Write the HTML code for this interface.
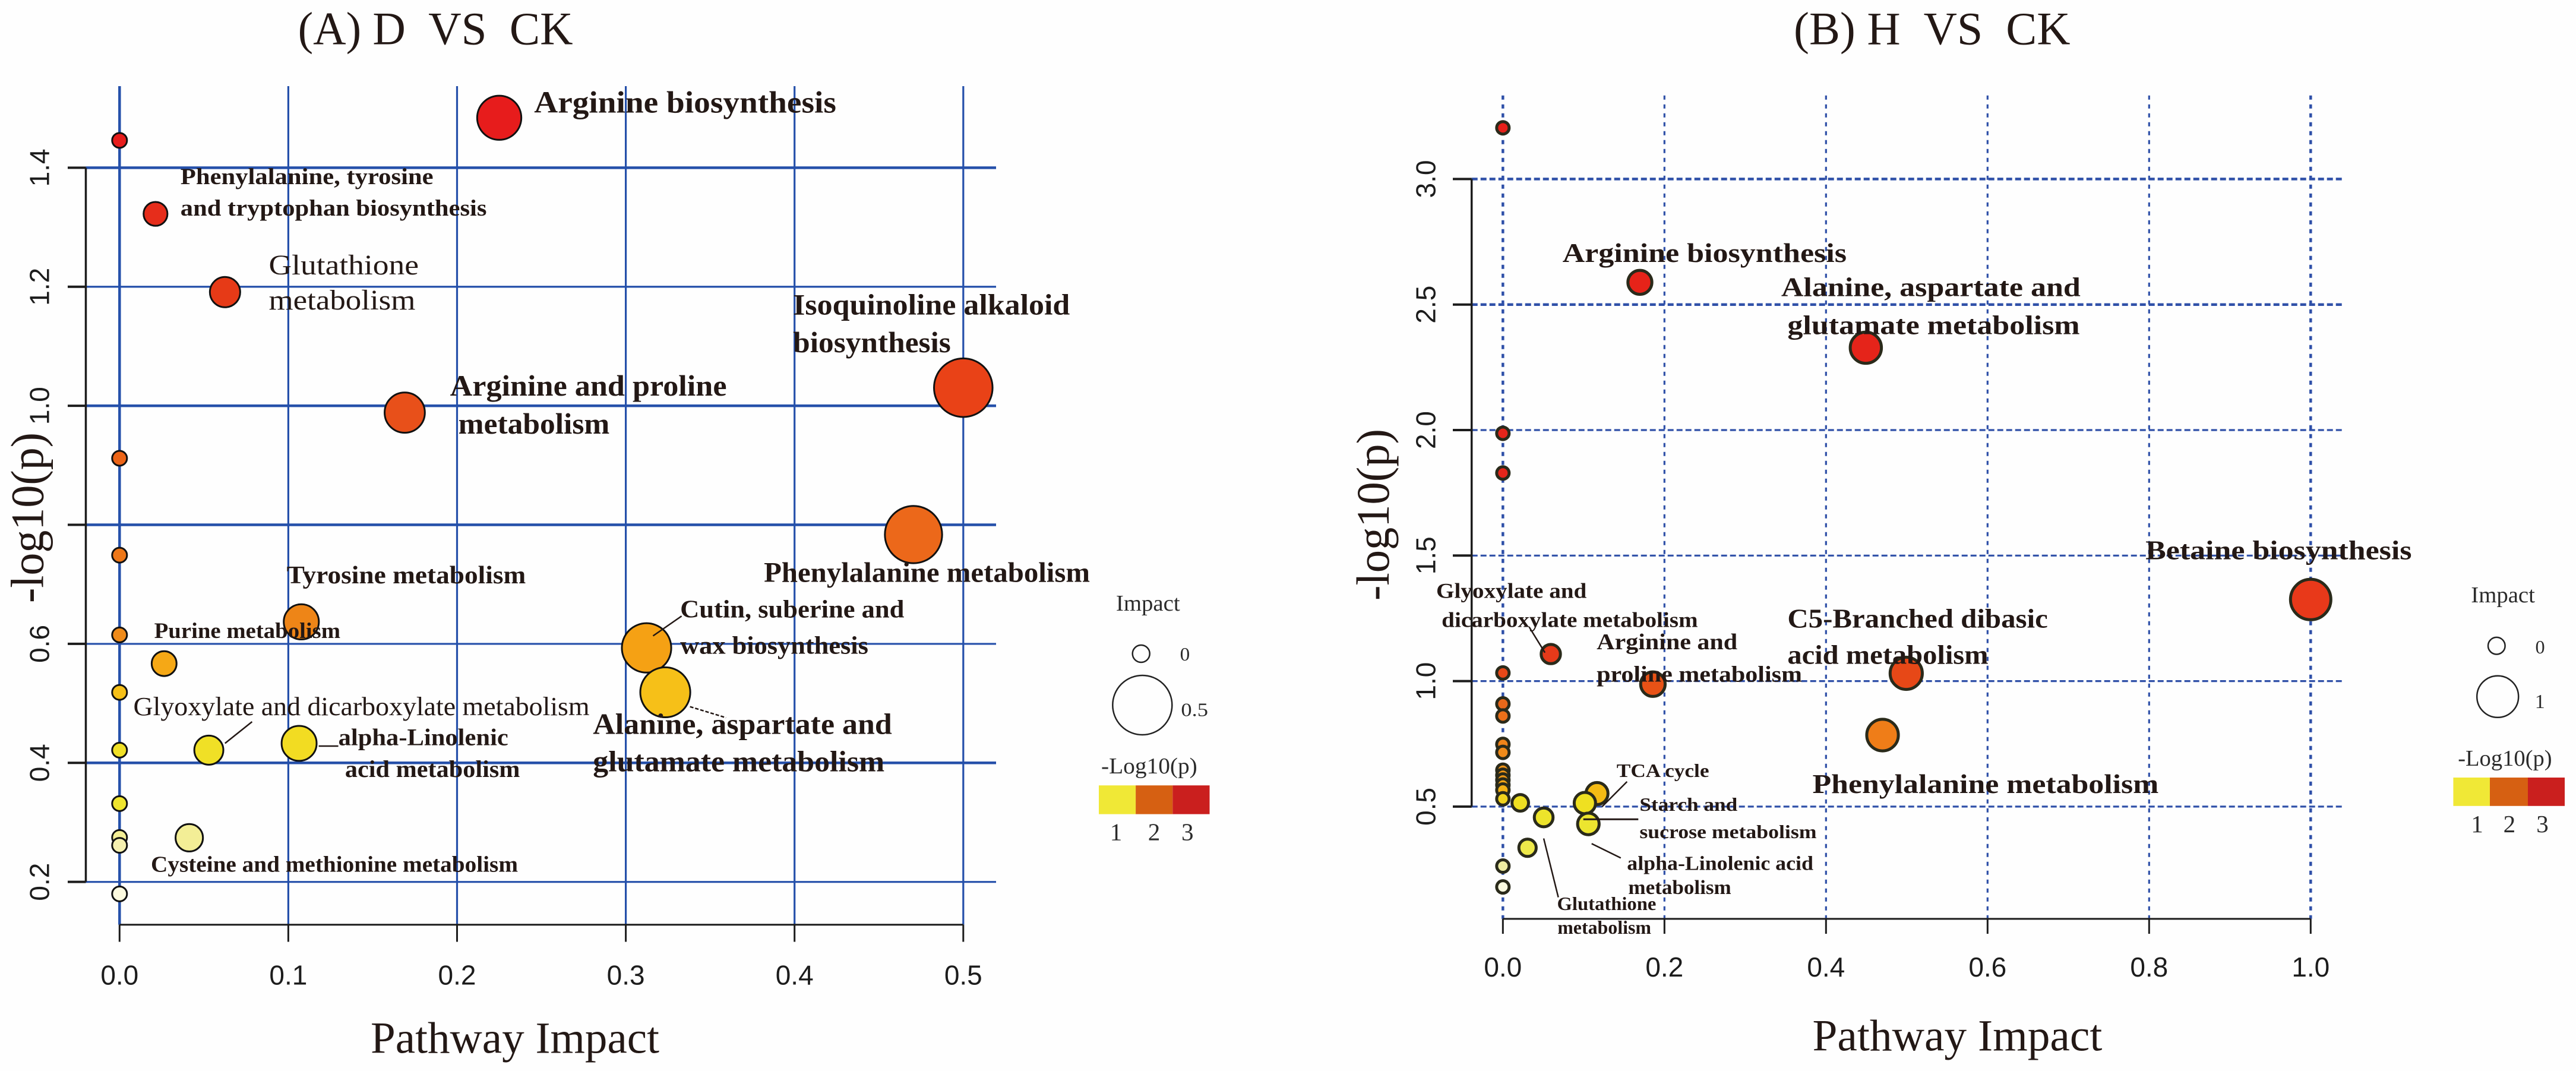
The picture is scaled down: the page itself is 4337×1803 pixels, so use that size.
<!DOCTYPE html>
<html lang="en">
<head>
<meta charset="utf-8">
<title>Pathway impact bubble charts: D vs CK and H vs CK</title>
<style>
html,body{margin:0;padding:0;background:#fefefe;}
#figure{display:block;width:4337px;height:1803px;}
text{fill:#231815;font-family:"Liberation Serif",serif;}
.lb{font-weight:bold;}
.tick{font-family:"Liberation Sans",sans-serif;font-size:46px;fill:#1c1c1c;}
.leg{fill:#2b2b2b;}
.leader{stroke:#231815;stroke-width:2.5;fill:none;}
</style>
</head>
<body>
<svg id="figure" xmlns="http://www.w3.org/2000/svg" width="4337" height="1803" viewBox="0 0 4337 1803">
<rect x="0" y="0" width="4337" height="1803" fill="#fefefe"/>

<g id="chart-a-grid"></g>
<g id="chart-a-axes"></g>
<g id="chart-a-points"></g>
<g id="chart-b-grid"></g>
<g id="chart-b-axes"></g>
<g id="chart-b-points"></g>

<!-- Panel A text -->
<g>
<text x="501.6" y="74.6" font-size="78" textLength="463" lengthAdjust="spacingAndGlyphs">(A) D&#160;&#160;VS&#160;&#160;CK</text>
<text x="624" y="1772.7" font-size="75" textLength="486" lengthAdjust="spacingAndGlyphs">Pathway Impact</text>
<text transform="translate(72.7,1015) rotate(-90)" x="0" y="0" font-size="78" textLength="287" lengthAdjust="spacingAndGlyphs">-log10(p)</text>

<line class="leader" x1="378.8" y1="1251.4" x2="424.4" y2="1215"/>
<line class="leader" x1="536.6" y1="1256" x2="569.6" y2="1256"/>
<line class="leader" x1="1099.5" y1="1070.5" x2="1147.6" y2="1037.1"/>
<line class="leader" stroke-dasharray="6 3" x1="1161.7" y1="1189.7" x2="1222.2" y2="1208.2"/>

<text class="lb" x="899.3" y="189.4" font-size="52" textLength="508.6" lengthAdjust="spacingAndGlyphs">Arginine biosynthesis</text>
<text class="lb" x="303.8" y="310" font-size="39" textLength="425.8" lengthAdjust="spacingAndGlyphs">Phenylalanine, tyrosine</text>
<text class="lb" x="303.8" y="362.8" font-size="39" textLength="515.6" lengthAdjust="spacingAndGlyphs">and tryptophan biosynthesis</text>
<text x="452.5" y="462" font-size="48" textLength="252.5" lengthAdjust="spacingAndGlyphs">Glutathione</text>
<text x="452.5" y="521.2" font-size="48" textLength="246.9" lengthAdjust="spacingAndGlyphs">metabolism</text>
<text class="lb" x="1335.2" y="529.3" font-size="50" textLength="466.1" lengthAdjust="spacingAndGlyphs">Isoquinoline alkaloid</text>
<text class="lb" x="1335.2" y="593" font-size="50" textLength="265.6" lengthAdjust="spacingAndGlyphs">biosynthesis</text>
<text class="lb" x="757.6" y="665.9" font-size="50" textLength="465.9" lengthAdjust="spacingAndGlyphs">Arginine and proline</text>
<text class="lb" x="771.7" y="730.2" font-size="50" textLength="254.6" lengthAdjust="spacingAndGlyphs">metabolism</text>
<text class="lb" x="1286.1" y="979.5" font-size="48" textLength="548.9" lengthAdjust="spacingAndGlyphs">Phenylalanine metabolism</text>
<text class="lb" x="482.6" y="981.8" font-size="42" textLength="402.7" lengthAdjust="spacingAndGlyphs">Tyrosine metabolism</text>
<text class="lb" x="1145.1" y="1039.4" font-size="42" textLength="377.3" lengthAdjust="spacingAndGlyphs">Cutin, suberine and</text>
<text class="lb" x="1145.1" y="1100.5" font-size="42" textLength="316.8" lengthAdjust="spacingAndGlyphs">wax biosynthesis</text>
<text class="lb" x="259.6" y="1074" font-size="37" textLength="313.5" lengthAdjust="spacingAndGlyphs">Purine metabolism</text>
<text x="224.5" y="1204" font-size="44" textLength="768.1" lengthAdjust="spacingAndGlyphs">Glyoxylate and dicarboxylate metabolism</text>
<text class="lb" x="998.3" y="1235.3" font-size="50" textLength="503.4" lengthAdjust="spacingAndGlyphs">Alanine, aspartate and</text>
<text class="lb" x="998.3" y="1298.6" font-size="50" textLength="490.9" lengthAdjust="spacingAndGlyphs">glutamate metabolism</text>
<text class="lb" x="569.6" y="1254.3" font-size="40" textLength="286.2" lengthAdjust="spacingAndGlyphs">alpha-Linolenic</text>
<text class="lb" x="580.9" y="1307.8" font-size="40" textLength="294.6" lengthAdjust="spacingAndGlyphs">acid metabolism</text>
<text class="lb" x="254" y="1467.4" font-size="38" textLength="618" lengthAdjust="spacingAndGlyphs">Cysteine and methionine metabolism</text>
</g>

<!-- Panel A legend -->
<g>
<text class="leg" x="1878.9" y="1027.9" font-size="38" textLength="107.8" lengthAdjust="spacingAndGlyphs">Impact</text>
<circle cx="1921.2" cy="1100.5" r="14.5" fill="none" stroke="#222" stroke-width="2.5"/>
<text class="leg" x="1986.7" y="1112" font-size="32" textLength="16.6" lengthAdjust="spacingAndGlyphs">0</text>
<circle cx="1923.3" cy="1187" r="50" fill="none" stroke="#222" stroke-width="2.5"/>
<text class="leg" x="1988.4" y="1205.3" font-size="32" textLength="45.6" lengthAdjust="spacingAndGlyphs">0.5</text>
<text class="leg" x="1854" y="1302" font-size="38" textLength="161.8" lengthAdjust="spacingAndGlyphs">-Log10(p)</text>
<rect x="1850" y="1322.2" width="62.1" height="48.4" fill="#f0e836"/>
<rect x="1912.1" y="1322.2" width="62.2" height="48.4" fill="#d66012"/>
<rect x="1974.3" y="1322.2" width="62.2" height="48.4" fill="#ca1f1e"/>
<text class="leg" x="1879" y="1414.4" font-size="41" text-anchor="middle">1</text>
<text class="leg" x="1943" y="1414.4" font-size="41" text-anchor="middle">2</text>
<text class="leg" x="1999.2" y="1414.4" font-size="41" text-anchor="middle">3</text>
</g>

<!-- Panel B text -->
<g>
<text x="3020" y="74.6" font-size="78" textLength="465.5" lengthAdjust="spacingAndGlyphs">(B) H&#160;&#160;VS&#160;&#160;CK</text>
<text x="3051.5" y="1768.6" font-size="75" textLength="487.8" lengthAdjust="spacingAndGlyphs">Pathway Impact</text>
<text transform="translate(2338,1011) rotate(-90)" x="0" y="0" font-size="78" textLength="289" lengthAdjust="spacingAndGlyphs">-log10(p)</text>

<line class="leader" stroke-width="3" x1="2574.5" y1="1055.5" x2="2601.1" y2="1098.7"/>
<line class="leader" stroke-width="3" x1="2739.3" y1="1315.9" x2="2697.3" y2="1358"/>
<line class="leader" stroke-width="3" x1="2679.7" y1="1420.2" x2="2728.8" y2="1444.4"/>
<line class="leader" stroke-width="3" x1="2599" y1="1411.5" x2="2623.6" y2="1510.6"/>

<text class="lb" x="2630.6" y="440.9" font-size="46" textLength="478.4" lengthAdjust="spacingAndGlyphs">Arginine biosynthesis</text>
<text class="lb" x="2998.9" y="498.3" font-size="46" textLength="503.9" lengthAdjust="spacingAndGlyphs">Alanine, aspartate and</text>
<text class="lb" x="3009.4" y="562.6" font-size="46" textLength="492.2" lengthAdjust="spacingAndGlyphs">glutamate metabolism</text>
<text class="lb" x="3612.2" y="941.5" font-size="46" textLength="448.3" lengthAdjust="spacingAndGlyphs">Betaine biosynthesis</text>
<text class="lb" x="2418" y="1006.6" font-size="36" textLength="253.3" lengthAdjust="spacingAndGlyphs">Glyoxylate and</text>
<text class="lb" x="2427.2" y="1055.5" font-size="36" textLength="431.4" lengthAdjust="spacingAndGlyphs">dicarboxylate metabolism</text>
<text class="lb" x="2688.1" y="1093" font-size="38" textLength="237.1" lengthAdjust="spacingAndGlyphs">Arginine and</text>
<text class="lb" x="2688.1" y="1147.7" font-size="38" textLength="345.9" lengthAdjust="spacingAndGlyphs">proline metabolism</text>
<text class="lb" x="3009.4" y="1056.7" font-size="46" textLength="438.4" lengthAdjust="spacingAndGlyphs">C5-Branched dibasic</text>
<text class="lb" x="3009.4" y="1117.7" font-size="46" textLength="338.2" lengthAdjust="spacingAndGlyphs">acid metabolism</text>
<text class="lb" x="3051.5" y="1334.9" font-size="46" textLength="582.8" lengthAdjust="spacingAndGlyphs">Phenylalanine metabolism</text>
<text class="lb" x="2721.8" y="1307.8" font-size="32" textLength="155.7" lengthAdjust="spacingAndGlyphs">TCA cycle</text>
<text class="lb" x="2760.4" y="1364.9" font-size="32" textLength="164.8" lengthAdjust="spacingAndGlyphs">Starch and</text>
<text class="lb" x="2760.4" y="1411" font-size="32" textLength="298.1" lengthAdjust="spacingAndGlyphs">sucrose metabolism</text>
<text class="lb" x="2739.3" y="1464.5" font-size="34" textLength="313.6" lengthAdjust="spacingAndGlyphs">alpha-Linolenic acid</text>
<text class="lb" x="2741.4" y="1504.8" font-size="34" textLength="173.3" lengthAdjust="spacingAndGlyphs">metabolism</text>
<text class="lb" x="2621.5" y="1531.9" font-size="32" textLength="166.9" lengthAdjust="spacingAndGlyphs">Glutathione</text>
<text class="lb" x="2622.2" y="1572.2" font-size="32" textLength="157.8" lengthAdjust="spacingAndGlyphs">metabolism</text>
</g>

<!-- Panel B legend -->
<g>
<text class="leg" x="4160.3" y="1014" font-size="38" textLength="107.6" lengthAdjust="spacingAndGlyphs">Impact</text>
<circle cx="4203.3" cy="1087.2" r="14.3" fill="none" stroke="#222" stroke-width="2.5"/>
<text class="leg" x="4268.5" y="1099.9" font-size="32" textLength="16.1" lengthAdjust="spacingAndGlyphs">0</text>
<circle cx="4205.2" cy="1172.8" r="35" fill="none" stroke="#222" stroke-width="2.5"/>
<text class="leg" x="4276.3" y="1192" font-size="34" text-anchor="middle">1</text>
<text class="leg" x="4138.2" y="1288.8" font-size="38" textLength="158.4" lengthAdjust="spacingAndGlyphs">-Log10(p)</text>
<rect x="4130.4" y="1309" width="61.6" height="47.8" fill="#f0e836"/>
<rect x="4192" y="1309" width="64" height="47.8" fill="#d66012"/>
<rect x="4256" y="1309" width="62" height="47.8" fill="#ca1f1e"/>
<text class="leg" x="4170.5" y="1401.2" font-size="41" text-anchor="middle">1</text>
<text class="leg" x="4224.9" y="1401.2" font-size="41" text-anchor="middle">2</text>
<text class="leg" x="4280.5" y="1401.2" font-size="41" text-anchor="middle">3</text>
</g>
</svg>

<script>
// ---- Chart data, panel A ----
var xTicksA = ['0.0', '0.1', '0.2', '0.3', '0.4', '0.5'];
var yTicksA = ['0.2', '0.4', '0.6', '0.8', '1.0', '1.2', '1.4'];
var hiddenYLabelsA = ['0.8'];
var impactA = [0.225, 0, 0.0213, 0.0625, 0.169, 0.5, 0, 0.4705, 0, 0.1077, 0, 0.0264, 0, 0.3123, 0.3234, 0.0529, 0.1064, 0, 0, 0, 0, 0.0413, 0];
var logPA = [1.484, 1.446, 1.3225, 1.191, 0.9886, 1.0304, 0.9118, 0.7836, 0.749, 0.637, 0.615, 0.5668, 0.5185, 0.5932, 0.5186, 0.4214, 0.4328, 0.4214, 0.3316, 0.2747, 0.2615, 0.2742, 0.1799];

// ---- Chart data, panel B ----
var xTicksB = ['0.0', '0.2', '0.4', '0.6', '0.8', '1.0'];
var yTicksB = ['0.5', '1.0', '1.5', '2.0', '2.5', '3.0'];
var hiddenYLabelsB = [];
var impactB = [0, 0.1696, 0.4493, 0, 0, 0.0593, 0, 0.1857, 0.4993, 0.47, 1.0, 0, 0, 0, 0, 0, 0, 0, 0, 0, 0, 0.0215, 0.0505, 0.0305, 0, 0, 0.1165, 0.1015, 0.1058];
var logPB = [3.204, 2.5885, 2.328, 1.987, 1.829, 1.1077, 1.0325, 0.9877, 1.031, 0.785, 1.325, 0.909, 0.861, 0.748, 0.716, 0.645, 0.625, 0.606, 0.586, 0.566, 0.531, 0.515, 0.457, 0.336, 0.263, 0.18, 0.552, 0.514, 0.431];

// ---- Axis scales ----
function xA(v) { return 201.3 + 2841 * v; }
function yA(v) { return 282.4 + (1.4 - v) * 1001.9; }
function rA(v) { return 12.5 + 52 * Math.sqrt(v); }
function xB(v) { return 2530.3 + 1360 * v; }
function yB(v) { return 301.4 + (3 - v) * 422.6; }
function rB(v) { return 10.5 + 23.5 * Math.sqrt(v); }

// Heat colour scale: -log10(p) -> fill colour
var heatStopsA = [[0.18,'#fdfbe0'],[0.262,'#f5f0b0'],[0.30,'#f0ea60'],[0.33,'#efe52e'],[0.42,'#f0e026'],[0.44,'#f3d91f'],[0.518,'#f6c018'],[0.567,'#f5a816'],[0.595,'#f5a014'],[0.615,'#ef8b1a'],[0.64,'#ee8417'],[0.75,'#ed7718'],[0.785,'#ec671a'],[0.91,'#ec6417'],[0.99,'#e8501a'],[1.03,'#e94217'],[1.19,'#e63a17'],[1.32,'#e62d1b'],[1.45,'#e71c1c']];
var heatStopsB = [[0.18,'#fbfadf'],[0.265,'#eeeca0'],[0.336,'#eee94a'],[0.43,'#ece52f'],[0.52,'#efe020'],[0.55,'#f4bc14'],[0.6,'#f09a16'],[0.72,'#f08a19'],[0.785,'#ef7d18'],[0.9,'#e96a1a'],[1.0,'#e84f15'],[1.1,'#e63a1a'],[1.33,'#e8391a'],[1.83,'#e5261a'],[3.2,'#e62019']];

function heat(stops, v) {
  if (v <= stops[0][0]) return stops[0][1];
  for (var i = 1; i < stops.length; i++) {
    if (v <= stops[i][0]) {
      var t = (v - stops[i - 1][0]) / (stops[i][0] - stops[i - 1][0]);
      var a = parseInt(stops[i - 1][1].slice(1), 16), b = parseInt(stops[i][1].slice(1), 16);
      var r = Math.round((a >> 16) + ((b >> 16) - (a >> 16)) * t);
      var g = Math.round(((a >> 8) & 255) + (((b >> 8) & 255) - ((a >> 8) & 255)) * t);
      var bl = Math.round((a & 255) + ((b & 255) - (a & 255)) * t);
      return 'rgb(' + r + ',' + g + ',' + bl + ')';
    }
  }
  return stops[stops.length - 1][1];
}

var NS = 'http://www.w3.org/2000/svg';
function mk(tag, parent, props) {
  var e = document.createElementNS(NS, tag);
  for (var k in props) e.setAttribute(k, props[k]);
  parent.appendChild(e);
  return e;
}

function drawChart(cfg) {
  var grid = document.getElementById(cfg.id + '-grid');
  var axes = document.getElementById(cfg.id + '-axes');
  var pts = document.getElementById(cfg.id + '-points');

  // horizontal gridlines and y ticks
  cfg.yTicks.forEach(function (t) {
    var y = cfg.y(parseFloat(t));
    var g = mk('line', grid, { x1: cfg.axisX, y1: y, x2: cfg.gridRight, y2: y, stroke: cfg.gridColor, 'stroke-width': cfg.thickY.indexOf(t) >= 0 ? 4.5 : 3.2, 'stroke-dasharray': cfg.dashH });
    
    
    var m = mk('line', axes, { x1: cfg.yTickEnd, y1: y, x2: cfg.axisX, y2: y, stroke: '#1c1c1c', 'stroke-width': 4 });
    
    
    if (cfg.hiddenY.indexOf(t) < 0) {
      var l = mk('text', axes, { 'class': 'tick', transform: 'translate(' + cfg.yLabelX + ',' + y + ') rotate(-90)', 'text-anchor': 'middle' });
      l.textContent = t;
      
      
    }
  });
  // vertical gridlines and x ticks
  cfg.xTicks.forEach(function (t) {
    var x = cfg.x(parseFloat(t));
    var g = mk('line', grid, { x1: x, y1: cfg.gridTop, x2: x, y2: cfg.axisY, stroke: cfg.gridColor, 'stroke-width': cfg.thickX.indexOf(t) >= 0 ? 4.5 : 3.2, 'stroke-dasharray': cfg.dashV });
    
    
    var m = mk('line', axes, { x1: x, y1: cfg.axisY, x2: x, y2: cfg.xTickEnd, stroke: '#1c1c1c', 'stroke-width': 3 });
    
    
    var l = mk('text', axes, { 'class': 'tick', x: x, y: cfg.xLabelY, 'text-anchor': 'middle' });
    l.textContent = t;
    
    
  });
  // axis lines
  var ya = mk('line', axes, { x1: cfg.axisX, y1: cfg.y(parseFloat(cfg.yTicks[cfg.yTicks.length - 1])), x2: cfg.axisX, y2: cfg.y(parseFloat(cfg.yTicks[0])), stroke: '#1c1c1c', 'stroke-width': 3.5 });
  
  
  var xa = mk('line', axes, { x1: cfg.x(parseFloat(cfg.xTicks[0])), y1: cfg.axisY, x2: cfg.x(parseFloat(cfg.xTicks[cfg.xTicks.length - 1])), y2: cfg.axisY, stroke: '#1c1c1c', 'stroke-width': 3 });
  
  

  // pathway bubbles
  cfg.impact.forEach(function (imp, i) {
    var c = mk('circle', pts, { cx: cfg.x(imp), cy: cfg.y(cfg.logP[i]), r: cfg.r(imp), fill: heat(cfg.heat, cfg.logP[i]), stroke: cfg.pointStroke, 'stroke-width': cfg.pointW });
    
    
  });
}

drawChart({
  id: 'chart-a', x: xA, y: yA, r: rA, xTicks: xTicksA, yTicks: yTicksA, hiddenY: hiddenYLabelsA, impact: impactA, logP: logPA, heat: heatStopsA,
  axisX: 144.5, axisY: 1556.7, gridRight: 1677, gridTop: 145, yTickEnd: 114, xTickEnd: 1585.5,
  yLabelX: 82.7, xLabelY: 1657.5, gridColor: '#2550aa', thickY: ['1.4', '0.8', '0.4', '1.0'], thickX: ['0.0'], dashH: 'none', dashV: 'none', pointStroke: '#111', pointW: 3
});
drawChart({
  id: 'chart-b', x: xB, y: yB, r: rB, xTicks: xTicksB, yTicks: yTicksB, hiddenY: hiddenYLabelsB, impact: impactB, logP: logPB, heat: heatStopsB,
  axisX: 2477.7, axisY: 1546.9, gridRight: 3945, gridTop: 160.7, yTickEnd: 2446, xTickEnd: 1572,
  yLabelX: 2416.6, xLabelY: 1644, gridColor: '#2f50a8', thickY: ['3.0', '2.5'], thickX: ['0.0', '1.0'], dashH: '10 5', dashV: '7 8', pointStroke: '#2a2a1a', pointW: 5
});

// starch leader sits above the bubbles in panel B
var starch = mk('line', document.getElementById('figure'), { x1: 2665.7, y1: 1379.3, x2: 2758.3, y2: 1379.3, stroke: '#231815', 'stroke-width': 3 });


</script>
</body>
</html>
